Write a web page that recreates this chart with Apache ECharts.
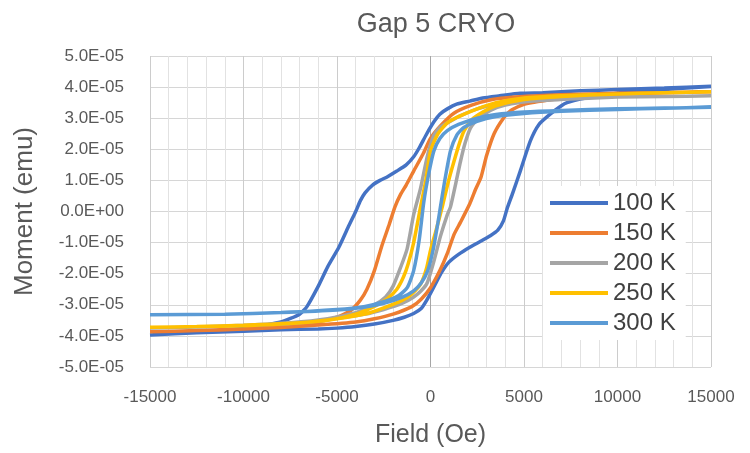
<!DOCTYPE html>
<html>
<head>
<meta charset="utf-8">
<script src="https://cdn.jsdelivr.net/npm/echarts@6/dist/echarts.min.js"></script>
<style>html,body{margin:0;padding:0;background:#fff}#c{width:750px;height:453px}</style>
</head>
<body>
<div id="c"></div>
<script>
// Moment values are in units of 1E-05 emu; field in Oe.
const seriesNames = ['100 K', '150 K', '200 K', '250 K', '300 K'];
const seriesColors = ['#4472C4', '#ED7D31', '#A5A5A5', '#FFC000', '#5B9BD5'];
const yTicks = [-5, -4, -3, -2, -1, 0, 1, 2, 3, 4, 5];
const xTicks = [-15000, -10000, -5000, 0, 5000, 10000, 15000];

const desc100 = [[15000,4.03],[12500,3.97],[10000,3.92],[8000,3.88],[6000,3.82],[4800,3.8],[3700,3.72],[2800,3.65],[2100,3.55],[1400,3.45],[900,3.3],[500,3.13],[200,2.9],[-200,2.5],[-600,2.05],[-900,1.76],[-1300,1.5],[-1800,1.3],[-2300,1.12],[-2700,1.0],[-3100,0.85],[-3500,0.6],[-3750,0.35],[-4000,0.0],[-4400,-0.5],[-4900,-1.15],[-5500,-1.78],[-6000,-2.4],[-6600,-3.05],[-7000,-3.3],[-8000,-3.55],[-10000,-3.75],[-12500,-3.88],[-15000,-3.97]];
const asc100 = [[-15000,-3.97],[-12500,-3.9],[-10000,-3.85],[-8000,-3.8],[-6000,-3.78],[-5000,-3.75],[-4000,-3.7],[-3000,-3.62],[-2000,-3.5],[-1400,-3.4],[-900,-3.28],[-500,-3.12],[-200,-2.85],[200,-2.4],[600,-1.95],[1000,-1.62],[1500,-1.38],[2100,-1.15],[2700,-0.95],[3200,-0.78],[3600,-0.6],[3900,-0.3],[4100,0.1],[4400,0.6],[4800,1.3],[5340,2.27],[5800,2.8],[6400,3.13],[7000,3.4],[7300,3.5],[8000,3.62],[10000,3.8],[12500,3.92],[15000,4.02]];

const desc150 = [[15000,3.85],[12500,3.82],[10000,3.8],[8000,3.77],[6000,3.73],[4500,3.68],[3300,3.6],[2200,3.42],[1250,3.16],[530,2.75],[0,2.35],[-400,1.85],[-900,1.3],[-1300,0.85],[-1600,0.55],[-1900,0.15],[-2200,-0.4],[-2600,-1.1],[-3000,-1.9],[-3400,-2.5],[-3750,-2.85],[-4300,-3.2],[-5000,-3.4],[-6500,-3.6],[-8000,-3.7],[-10000,-3.78],[-12500,-3.83],[-15000,-3.87]];
const asc150 = [[-15000,-3.87],[-12500,-3.83],[-10000,-3.78],[-8000,-3.73],[-6000,-3.65],[-4000,-3.55],[-3000,-3.45],[-2000,-3.3],[-1000,-3.06],[-500,-2.82],[0,-2.45],[500,-1.9],[900,-1.35],[1250,-0.75],[1600,-0.35],[2100,0.25],[2400,0.7],[2700,1.1],[3000,1.8],[3400,2.5],[3900,3.0],[4300,3.25],[5000,3.45],[6500,3.6],[8000,3.7],[10000,3.77],[12500,3.82],[15000,3.85]];

const desc200 = [[15000,3.72],[12500,3.7],[10000,3.68],[7000,3.63],[5000,3.57],[3500,3.45],[2500,3.3],[1500,3.05],[900,2.85],[500,2.7],[180,2.45],[-180,1.75],[-530,0.75],[-900,-0.1],[-1250,-1.2],[-1600,-1.8],[-2000,-2.4],[-2400,-2.75],[-3000,-3.0],[-4000,-3.25],[-5500,-3.45],[-7500,-3.58],[-10000,-3.66],[-12500,-3.71],[-15000,-3.75]];
const asc200 = [[-15000,-3.75],[-12500,-3.71],[-10000,-3.66],[-7500,-3.6],[-5500,-3.48],[-3500,-3.3],[-2500,-3.15],[-1500,-2.95],[-900,-2.75],[-500,-2.55],[-180,-2.3],[180,-1.6],[530,-0.8],[900,-0.1],[1070,0.15],[1350,0.9],[1600,1.6],[1850,2.2],[2150,2.7],[2600,3.0],[3200,3.25],[4000,3.42],[5500,3.55],[7500,3.62],[10000,3.68],[12500,3.7],[15000,3.72]];

const desc250 = [[15000,3.85],[12500,3.82],[10000,3.78],[7000,3.72],[5000,3.65],[3500,3.5],[2500,3.3],[1500,3.05],[900,2.85],[400,2.5],[0,1.95],[-250,1.0],[-534,0.14],[-900,-1.0],[-1200,-1.7],[-1440,-2.1],[-1800,-2.5],[-2300,-2.8],[-3000,-3.05],[-4000,-3.3],[-5500,-3.5],[-8000,-3.62],[-10000,-3.67],[-12500,-3.7],[-15000,-3.72]];
const asc250 = [[-15000,-3.72],[-12500,-3.7],[-10000,-3.66],[-7000,-3.58],[-5000,-3.45],[-3500,-3.3],[-2500,-3.1],[-1500,-2.85],[-1000,-2.65],[-500,-2.3],[-200,-1.8],[0,-1.25],[300,-0.6],[650,0.2],[950,0.95],[1250,1.6],[1550,2.2],[1800,2.6],[2200,2.95],[2800,3.2],[3500,3.4],[5000,3.6],[7000,3.7],[10000,3.78],[12500,3.82],[15000,3.85]];

const desc300 = [[15000,3.35],[12500,3.33],[10000,3.3],[7000,3.25],[5000,3.2],[3500,3.12],[2500,3.0],[1500,2.8],[900,2.6],[500,2.35],[180,1.95],[-100,1.2],[-360,0.3],[-600,-0.9],[-900,-1.9],[-1245,-2.45],[-1700,-2.7],[-2500,-2.9],[-3500,-3.05],[-5000,-3.15],[-8000,-3.25],[-11000,-3.3],[-15000,-3.32]];
const asc300 = [[-15000,-3.32],[-11000,-3.3],[-8000,-3.25],[-5000,-3.17],[-3500,-3.07],[-2500,-2.95],[-1500,-2.75],[-900,-2.55],[-500,-2.3],[-150,-1.9],[150,-1.2],[400,-0.35],[530,0.14],[750,0.95],[1068,1.95],[1400,2.45],[1780,2.7],[2490,2.9],[3500,3.05],[5000,3.15],[7000,3.22],[10000,3.28],[12500,3.32],[15000,3.35]];

const loops = [[desc100, asc100], [desc150, asc150], [desc200, asc200], [desc250, asc250], [desc300, asc300]];

const chart = echarts.init(document.getElementById('c'), null, {renderer: 'canvas'});
const FONT = 'Liberation Sans, Arial, sans-serif';

const series = loops.map((lp, i) => ({
  name: seriesNames[i],
  type: 'line',
  data: lp[0].concat(lp[1]),
  showSymbol: false,
  symbol: 'none',
  smooth: 0.2,
  lineStyle: {color: seriesColors[i], width: 3.5},
  itemStyle: {color: seriesColors[i]},
  z: 3 + i,
  animation: false
}));
series[0].markLine = {
  silent: true, symbol: 'none', label: {show: false},
  lineStyle: {color: '#a6a6a6', width: 1, type: 'solid'},
  data: [{xAxis: 0}], z: 1, animation: false
};

chart.setOption({
  backgroundColor: '#fff',
  animation: false,
  title: {
    text: 'Gap 5 CRYO', left: 431, top: 6, textAlign: 'center',
    textStyle: {fontFamily: FONT, fontSize: 27, fontWeight: 'normal', color: '#595959'}
  },
  grid: {left: 150, right: 39, top: 56, bottom: 86},
  legend: {
    orient: 'vertical', left: 543, top: 186, padding: [2, 10, 2, 7],
    backgroundColor: '#ffffff', itemGap: 0, itemWidth: 58, itemHeight: 4,
    icon: 'rect',
    textStyle: {fontFamily: FONT, fontSize: 24, color: '#404040', lineHeight: 30, padding: [0, 0, 0, 0]},
    data: seriesNames
  },
  xAxis: {
    type: 'value', min: xTicks[0], max: xTicks[xTicks.length - 1], interval: 5000,
    name: 'Field (Oe)', nameLocation: 'middle', nameGap: 56,
    nameTextStyle: {fontFamily: FONT, fontSize: 25, color: '#595959'},
    axisLine: {show: false}, axisTick: {show: false},
    axisLabel: {fontFamily: FONT, fontSize: 17, color: '#595959', margin: 22, formatter: v => String(v)},
    splitLine: {show: true, lineStyle: {color: '#cccccc', width: 1}},
    minorTick: {show: false, splitNumber: 5},
    minorSplitLine: {show: true, lineStyle: {color: '#e2e2e2', width: 1}}
  },
  yAxis: {
    type: 'value', min: yTicks[0], max: yTicks[yTicks.length - 1], interval: 1,
    name: 'Moment (emu)', nameLocation: 'middle', nameGap: 112,
    nameTextStyle: {fontFamily: FONT, fontSize: 26, color: '#595959'},
    axisLine: {show: false}, axisTick: {show: false},
    axisLabel: {
      fontFamily: FONT, fontSize: 17, color: '#595959', margin: 26,
      formatter: v => Math.abs(v) < 1e-9 ? '0.0E+00' : v.toFixed(1) + 'E-05'
    },
    splitLine: {show: true, lineStyle: {color: '#d6d6d6', width: 1}}
  },
  series: series
});
</script>
</body>
</html>
